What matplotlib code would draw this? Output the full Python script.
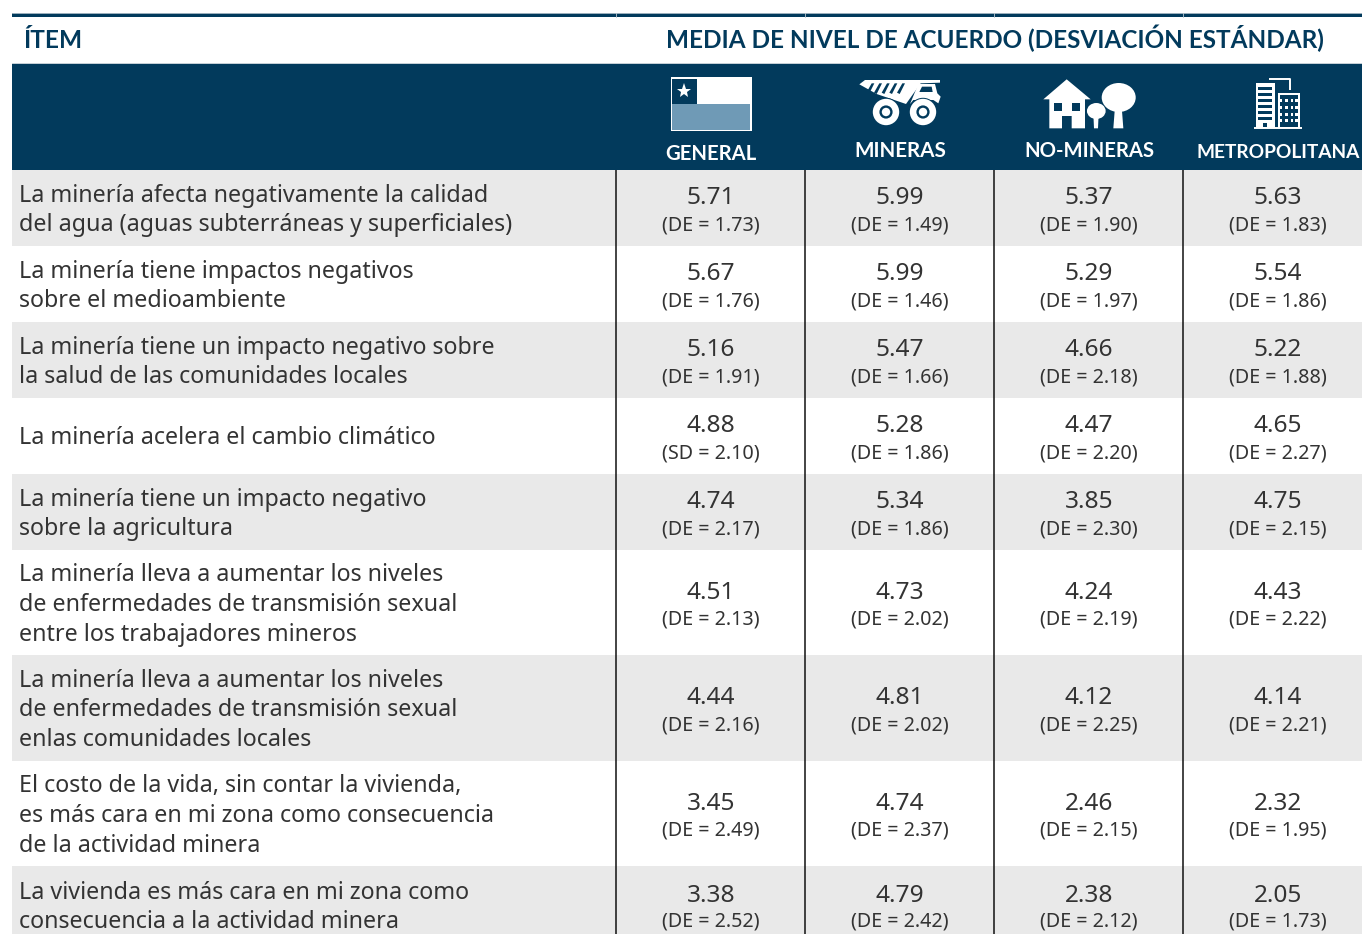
import matplotlib
matplotlib.use('Agg')
import matplotlib.pyplot as plt
from matplotlib.patches import Rectangle, Polygon, Circle, Ellipse

plt.rcParams['font.family'] = 'Noto Sans'

NAVY = '#023a5c'
GREY = '#e9e9e9'
INK = '#333333'
HAIR = '#b9c6cf'

items = [
    'La minería afecta negativamente la calidad\ndel agua (aguas subterráneas y superficiales)',
    'La minería tiene impactos negativos\nsobre el medioambiente',
    'La minería tiene un impacto negativo sobre\nla salud de las comunidades locales',
    'La minería acelera el cambio climático',
    'La minería tiene un impacto negativo\nsobre la agricultura',
    'La minería lleva a aumentar los niveles\nde enfermedades de transmisión sexual\nentre los trabajadores mineros',
    'La minería lleva a aumentar los niveles\nde enfermedades de transmisión sexual\nenlas comunidades locales',
    'El costo de la vida, sin contar la vivienda,\nes más cara en mi zona como consecuencia\nde la actividad minera',
    'La vivienda es más cara en mi zona como\nconsecuencia a la actividad minera',
]
columns = ['GENERAL', 'MINERAS', 'NO-MINERAS', 'METROPOLITANA']
means = [
    ['5.71', '5.99', '5.37', '5.63'],
    ['5.67', '5.99', '5.29', '5.54'],
    ['5.16', '5.47', '4.66', '5.22'],
    ['4.88', '5.28', '4.47', '4.65'],
    ['4.74', '5.34', '3.85', '4.75'],
    ['4.51', '4.73', '4.24', '4.43'],
    ['4.44', '4.81', '4.12', '4.14'],
    ['3.45', '4.74', '2.46', '2.32'],
    ['3.38', '4.79', '2.38', '2.05'],
]
devs = [
    ['(DE = 1.73)', '(DE = 1.49)', '(DE = 1.90)', '(DE = 1.83)'],
    ['(DE = 1.76)', '(DE = 1.46)', '(DE = 1.97)', '(DE = 1.86)'],
    ['(DE = 1.91)', '(DE = 1.66)', '(DE = 2.18)', '(DE = 1.88)'],
    ['(SD = 2.10)', '(DE = 1.86)', '(DE = 2.20)', '(DE = 2.27)'],
    ['(DE = 2.17)', '(DE = 1.86)', '(DE = 2.30)', '(DE = 2.15)'],
    ['(DE = 2.13)', '(DE = 2.02)', '(DE = 2.19)', '(DE = 2.22)'],
    ['(DE = 2.16)', '(DE = 2.02)', '(DE = 2.25)', '(DE = 2.21)'],
    ['(DE = 2.49)', '(DE = 2.37)', '(DE = 2.15)', '(DE = 1.95)'],
    ['(DE = 2.52)', '(DE = 2.42)', '(DE = 2.12)', '(DE = 1.73)'],
]

col_x = [711, 900, 1089, 1278]
col_y = [160, 157, 157, 158]
col_size = [14.6, 14.9, 14.6, 13.8]
col_edges = [616, 805, 994, 1183]
row_tops = [170, 246, 322, 398, 474, 550, 655, 761, 866, 944]

fig = plt.figure(figsize=(13.62, 9.34), dpi=100)
ax = fig.add_axes([0, 0, 1, 1])
ax.set_xlim(0, 1362)
ax.set_ylim(934, 0)
ax.axis('off')

# rows
for i, item in enumerate(items):
    top, bottom = row_tops[i], row_tops[i + 1]
    mid = (top + bottom) / 2
    if i % 2 == 0:
        ax.add_patch(Rectangle((12, top), 1350, bottom - top, fc=GREY, ec='none'))
    ax.text(19, mid + 2.5, item, fontsize=16.75, color=INK, va='center', ha='left', linespacing=1.33)
    for j, x in enumerate(col_x):
        ax.text(x, mid - 9.5, means[i][j], fontsize=17.6, color=INK, ha='center', va='center')
        ax.text(x, mid + 17, devs[i][j], fontsize=14.2, color=INK, ha='center', va='center')

for x in col_edges:
    ax.plot([x, x], [170, 934], color='#111111', lw=1.1, solid_capstyle='butt')

# header
ax.add_patch(Rectangle((12, 64), 1350, 106, fc=NAVY, ec='none'))
ax.add_patch(Rectangle((12, 13), 1350, 4, fc=NAVY, ec='none'))
ax.plot([12, 1362], [12.8, 12.8], color=HAIR, lw=0.6)
ax.plot([12, 1362], [63.3, 63.3], color=HAIR, lw=0.6)
for x in col_edges:
    ax.plot([x, x], [13, 17], color=HAIR, lw=0.6)
ax.text(23, 48, 'ÍTEM', fontsize=17.6, fontfamily='Lato', fontweight='bold', color=NAVY, va='baseline')
ax.text(666, 48, 'MEDIA DE NIVEL DE ACUERDO (DESVIACIÓN ESTÁNDAR)', fontsize=17.5, fontfamily='Lato',
        fontweight='bold', color=NAVY, va='baseline')
for j, name in enumerate(columns):
    ax.text(col_x[j], col_y[j], name, fontsize=col_size[j], fontfamily='Lato', fontweight='bold',
            color='white', ha='center', va='baseline')

# flag icon
ax.add_patch(Rectangle((670.5, 77), 81, 54, fc='white', ec='none'))
ax.add_patch(Rectangle((672, 104), 78, 25.5, fc='#6f9ab6', ec='none'))
ax.add_patch(Rectangle((672, 78.5), 25, 25.5, fc=NAVY, ec='none'))
ax.plot([684], [90.5], marker='*', ms=11, color='white', mew=0)

# truck icon, zoom crop coordinates
def tx(pts):
    return [(600 + x / 3, y / 3) for x, y in pts]

ax.add_patch(Polygon(tx([(778, 253), (795, 240), (1020, 240), (1020, 248), (962, 250), (918, 312),
                         (830, 282)]), fc='white', ec='none'))
for x in [815, 838, 861, 884, 907]:
    ax.add_patch(Polygon(tx([(x, 250), (x + 8, 250), (x - 8, 282), (x - 16, 278)]), fc=NAVY, ec='none'))
ax.add_patch(Polygon(tx([(930, 312), (955, 252), (1005, 252), (1012, 280), (1022, 290), (1015, 310),
                         (1000, 300), (940, 300)]), fc='white', ec='none'))
ax.add_patch(Polygon(tx([(958, 276), (966, 260), (995, 260), (998, 276)]), fc=NAVY, ec='none'))
for cx in [886, 923]:
    ax.add_patch(Circle((cx, 112), 14.2, fc=NAVY, ec='none'))
    ax.add_patch(Circle((cx, 112), 13.2, fc='white', ec='none'))
    ax.add_patch(Circle((cx, 112), 6.6, fc=NAVY, ec='none'))
    ax.add_patch(Circle((cx, 112), 4.2, fc='white', ec='none'))

# house and trees icon
def hx(pts):
    return [(980 + x / 3, y / 3) for x, y in pts]

ax.add_patch(Polygon(hx([(190, 298), (260, 238), (332, 298), (315, 298), (315, 385), (275, 385), (275, 348),
                         (246, 348), (246, 385), (208, 385), (208, 298)]), fc='white', ec='none'))
ax.add_patch(Rectangle((1054, 102.7), 8, 8, fc=NAVY, ec='none'))
ax.add_patch(Rectangle((1071.7, 102.7), 8, 8, fc=NAVY, ec='none'))
ax.add_patch(Ellipse((1096.3, 111), 18.7, 16, fc='white', ec='none'))
ax.add_patch(Polygon(hx([(340, 340), (356, 340), (354, 385), (342, 385)]), fc='white', ec='none'))
ax.add_patch(Ellipse((1118.7, 97.5), 34, 29, fc='white', ec='none'))
ax.add_patch(Polygon(hx([(405, 320), (425, 320), (430, 385), (400, 385)]), fc='white', ec='none'))

# buildings icon
bx = hx
ax.add_patch(Polygon(bx([(828, 250), (885, 250), (885, 385), (828, 385)]), fc='white', ec='none'))
for y in [262, 280, 298, 316, 334, 352]:
    ax.add_patch(Polygon(bx([(835, y), (877, y), (877, y + 9), (835, y + 9)]), fc=NAVY, ec='none'))
ax.add_patch(Polygon(bx([(848, 370), (862, 370), (862, 381), (848, 381)]), fc=NAVY, ec='none'))
ax.plot([1269, 1290, 1290], [79.3, 79.3, 90], color='white', lw=1.4, solid_capstyle='butt')
ax.add_patch(Polygon(bx([(893, 280), (960, 280), (960, 385), (893, 385)]), fc='white', ec='none'))
ax.add_patch(Polygon(bx([(899, 286), (954, 286), (954, 381), (899, 381)]), fc=NAVY, ec='none'))
for y in [297, 317, 338, 358]:
    for x in [899, 915, 932, 946]:
        ax.add_patch(Polygon(bx([(x, y), (x + 8, y), (x + 8, y + 9), (x, y + 9)]), fc='white', ec='none'))
ax.plot([1254, 1302], [128.3, 128.3], color='white', lw=1.4, solid_capstyle='butt')

fig.savefig('out.png', dpi=100)
